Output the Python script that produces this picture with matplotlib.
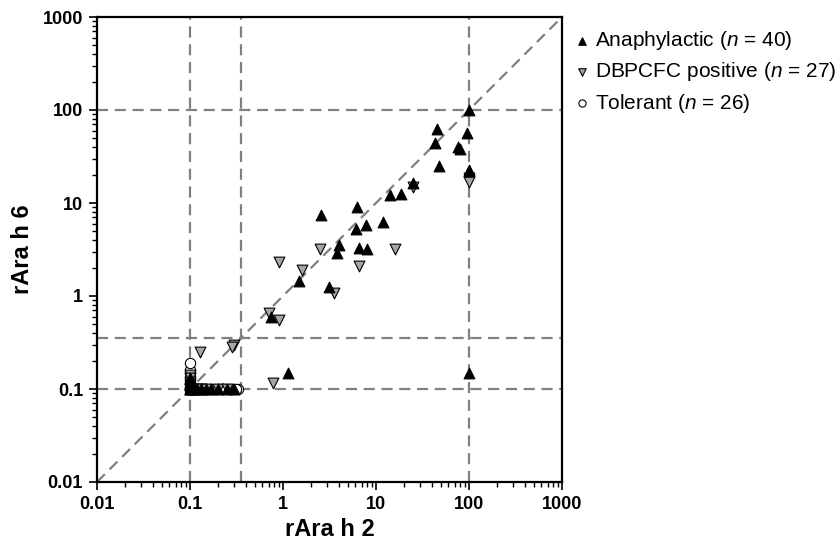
import numpy as np
import matplotlib
matplotlib.use("Agg")
from matplotlib import pyplot as plt

plt.rcParams["font.family"] = ["Liberation Sans", "DejaVu Sans"]
plt.rcParams["mathtext.fontset"] = "custom"
plt.rcParams["mathtext.it"] = "Liberation Sans:italic"
plt.rcParams["mathtext.rm"] = "Liberation Sans"

# rAra h 2 (x) vs rAra h 6 (y)
ana_x = [0.1, 0.1, 0.1, 0.1, 0.1, 0.11, 0.12, 0.13, 0.15, 0.17, 0.2, 0.25, 0.3,
         1.14, 100, 0.75, 1.5, 3.1, 3.8, 4.0, 6.6, 8.1, 6.1, 7.9, 11.8, 2.56,
         6.3, 14.2, 18.6, 25, 47, 100, 76, 80, 43, 45, 96, 100, 100, 0.1]
ana_y = [0.1, 0.11, 0.12, 0.13, 0.1, 0.1, 0.1, 0.1, 0.1, 0.1, 0.1, 0.1, 0.1,
         0.148, 0.15, 0.6, 1.45, 1.26, 2.9, 3.5, 3.3, 3.2, 5.3, 5.8, 6.3, 7.4,
         9.1, 12.2, 12.5, 16.3, 25, 22.6, 40, 38, 43.8, 62, 56, 100, 22, 0.1]

dbp_x = [0.1, 0.1, 0.1, 0.11, 0.13, 0.15, 0.2, 0.3, 0.28, 0.128, 0.79, 0.1,
         0.7, 0.9, 0.9, 1.6, 3.5, 2.5, 6.6, 16, 25, 100, 100, 0.12, 0.25, 0.1, 0.1]
dbp_y = [0.1, 0.12, 0.14, 0.1, 0.1, 0.1, 0.1, 0.3, 0.28, 0.25, 0.115, 0.13,
         0.65, 0.55, 2.3, 1.9, 1.09, 3.2, 2.1, 3.2, 15, 18.4, 17, 0.1, 0.1, 0.11, 0.1]

tol_x = [0.1, 0.1, 0.1, 0.1, 0.1, 0.1, 0.1, 0.1, 0.11, 0.12, 0.13, 0.15, 0.17,
         0.2, 0.23, 0.26, 0.3, 0.33, 0.1, 0.1, 0.12, 0.14, 0.22, 0.28, 0.31, 0.1]
tol_y = [0.1, 0.1, 0.11, 0.12, 0.13, 0.15, 0.16, 0.19, 0.1, 0.1, 0.1, 0.1, 0.1,
         0.1, 0.1, 0.1, 0.1, 0.1, 0.1, 0.1, 0.1, 0.1, 0.1, 0.1, 0.1, 0.1]

grid_vals = [0.1, 0.35, 100]

fig = plt.figure(figsize=(8.4, 5.48), dpi=100)
ax = fig.add_axes([97 / 840, 66 / 548, 465 / 840, 465 / 548])
ax.set_xscale("log")
ax.set_yscale("log")
ax.set_xlim(0.01, 1000)
ax.set_ylim(0.01, 1000)

for v in grid_vals:
    ax.axvline(v, color="#808080", ls=(0, (5, 3)), lw=1.6, zorder=1)
    ax.axhline(v, color="#808080", ls=(0, (5, 3)), lw=1.6, zorder=1)
ax.plot([0.01, 1000], [0.01, 1000], color="#808080", ls=(0, (5, 3)), lw=1.6, zorder=1)

ax.scatter(tol_x, tol_y, marker="o", s=55, facecolor="white", edgecolor="black",
           linewidth=0.8, zorder=3, label=r"Tolerant ($\it{n}$ = 26)")
ax.scatter(dbp_x, dbp_y, marker="v", s=60, facecolor="#a6a6a6", edgecolor="black",
           linewidth=0.8, zorder=4, label=r"DBPCFC positive ($\it{n}$ = 27)")
ax.scatter(ana_x, ana_y, marker="^", s=60, facecolor="black", edgecolor="black",
           linewidth=0.8, zorder=5, label=r"Anaphylactic ($\it{n}$ = 40)")

ticks = [0.01, 0.1, 1, 10, 100, 1000]
labels = ["0.01", "0.1", "1", "10", "100", "1000"]
ax.set_xticks(ticks)
ax.set_xticklabels(labels)
ax.set_yticks(ticks)
ax.set_yticklabels(labels)
ax.tick_params(which="major", direction="out", length=6, width=1.2,
               labelsize=13, pad=4)
ax.tick_params(which="minor", direction="out", length=3.5, width=1.0)
for t in ax.get_xticklabels() + ax.get_yticklabels():
    t.set_fontweight("bold")
for s in ax.spines.values():
    s.set_linewidth(1.6)

ax.set_xlabel("rAra h 2", fontsize=17, fontweight="bold", labelpad=4)
ax.set_ylabel("rAra h 6", fontsize=17, fontweight="bold", labelpad=6)

h, l = ax.get_legend_handles_labels()
order = [2, 1, 0]
fig.legend([h[i] for i in order], [l[i] for i in order], loc="upper left",
           bbox_to_anchor=(0.672, 0.962), frameon=False, fontsize=15,
           handletextpad=0.15, labelspacing=0.4, markerscale=0.7,
           handlelength=0.9, borderaxespad=0)

fig.savefig("out.png", dpi=100)
